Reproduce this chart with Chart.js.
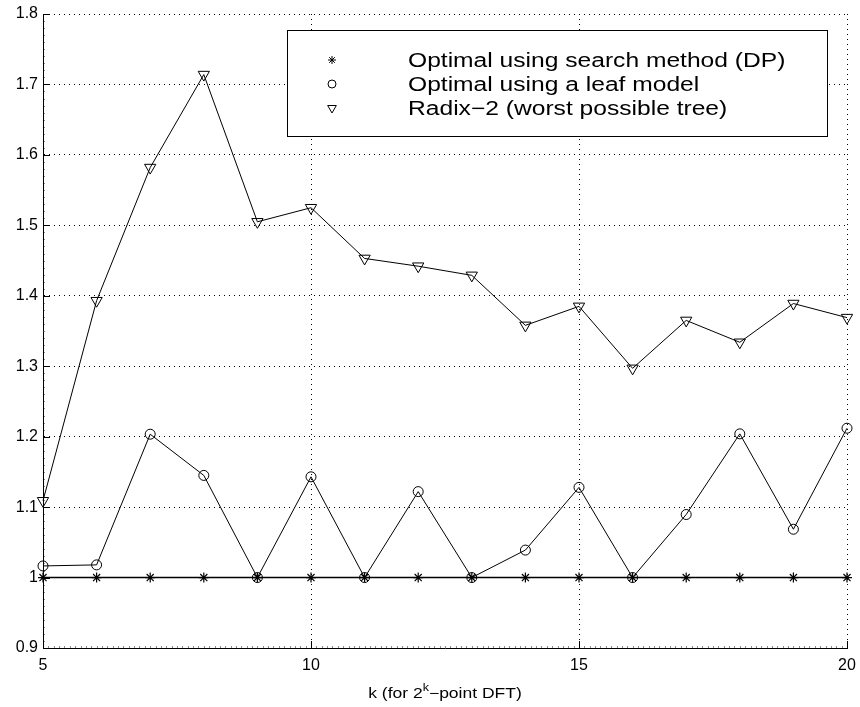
<!DOCTYPE html>
<html>
<head>
<meta charset="utf-8">
<script src="https://cdn.jsdelivr.net/npm/chart.js@4/dist/chart.umd.min.js"></script>
<style>
  html, body { margin: 0; padding: 0; background: #ffffff; }
  #c { display: block; }
</style>
</head>
<body>
<canvas id="c" width="860" height="707"></canvas>
<script>
// ---- data ----
const kValues = [5, 6, 7, 8, 9, 10, 11, 12, 13, 14, 15, 16, 17, 18, 19, 20];
const dpValues = [1, 1, 1, 1, 1, 1, 1, 1, 1, 1, 1, 1, 1, 1, 1, 1];
const leafValues = [1.0165, 1.018, 1.2035, 1.145, 1.0, 1.143, 1.0, 1.122, 1.0, 1.039, 1.128, 1.0, 1.0895, 1.204, 1.0686, 1.212];
const radixValues = [1.109, 1.393, 1.582, 1.714, 1.505, 1.525, 1.453, 1.442, 1.429, 1.358, 1.385, 1.297, 1.365, 1.334, 1.389, 1.369];
const seriesLabels = ['Optimal using search method (DP)', 'Optimal using a leaf model', 'Radix\u22122 (worst possible tree)'];
const xTicks = [5, 10, 15, 20];
const yTicks = [0.9, 1.0, 1.1, 1.2, 1.3, 1.4, 1.5, 1.6, 1.7, 1.8];
const xTitleMain = 'k (for 2';
const xTitleSup = 'k';
const xTitleEnd = '\u2212point DFT)';

const FONT = '"Liberation Sans", Arial, Helvetica, sans-serif';

function pts(vals) { return kValues.map((k, i) => ({ x: k, y: vals[i] })); }

const styles = [
  { pointStyle: 'star', radius: 5, rotation: 0, width: 1.2 },
  { pointStyle: 'circle', radius: 5, rotation: 0, width: 1 },
  { pointStyle: 'triangle', radius: 6.5, rotation: 180, width: 1 }
];

const seriesData = [dpValues, leafValues, radixValues];

const datasets = seriesData.map((vals, i) => ({
  label: seriesLabels[i],
  data: pts(vals),
  borderColor: '#000',
  backgroundColor: 'rgba(0,0,0,0)',
  borderWidth: i === 0 ? 1.4 : 1,
  pointStyle: styles[i].pointStyle,
  pointRadius: styles[i].radius,
  pointRotation: styles[i].rotation,
  pointBorderColor: '#000',
  pointBackgroundColor: 'rgba(0,0,0,0)',
  pointBorderWidth: styles[i].width,
  tension: 0,
  clip: false
}));

function stretchedText(ctx, text, x, y, sx) {
  ctx.save();
  ctx.translate(x, y);
  ctx.scale(sx, 1);
  ctx.fillText(text, 0, 0);
  ctx.restore();
}

const decorPlugin = {
  id: 'decor',
  afterDraw(chart) {
    const ctx = chart.ctx;
    const xs = chart.scales.x, ys = chart.scales.y;
    const area = chart.chartArea;
    ctx.save();
    ctx.strokeStyle = '#000';
    ctx.lineWidth = 1;
    // major inward ticks
    ctx.beginPath();
    xTicks.forEach(v => {
      const px = Math.round(xs.getPixelForValue(v)) + 0.5;
      ctx.moveTo(px, area.bottom);
      ctx.lineTo(px, area.bottom - 7);
    });
    yTicks.forEach(v => {
      const py = Math.round(ys.getPixelForValue(v)) + 0.5;
      ctx.moveTo(area.left, py);
      ctx.lineTo(area.left + 7, py);
    });
    ctx.stroke();
    // minor ticks
    ctx.beginPath();
    for (let v = 5; v <= 20.0001; v += 0.1) {
      const px = Math.round(xs.getPixelForValue(v)) + 0.5;
      ctx.moveTo(px, area.bottom);
      ctx.lineTo(px, area.bottom - 2);
    }
    for (let v = 0.9; v <= 1.8001; v += 0.01) {
      const py = Math.round(ys.getPixelForValue(v)) + 0.5;
      ctx.moveTo(area.left, py);
      ctx.lineTo(area.left + 2, py);
    }
    ctx.strokeStyle = 'rgba(0,0,0,0.45)';
    ctx.stroke();

    // legend box
    const bx = 287, by = 30, bw = 540, bh = 106;
    ctx.fillStyle = '#fff';
    ctx.fillRect(bx, by, bw, bh);
    ctx.strokeStyle = '#000';
    ctx.lineWidth = 1;
    ctx.strokeRect(bx + 0.5, by + 0.5, bw, bh);
    const rowY = [60, 84, 108];
    seriesLabels.forEach((lab, i) => {
      ctx.fillStyle = 'rgba(0,0,0,0)';
      ctx.strokeStyle = '#000';
      Chart.helpers.drawPoint(ctx, {
        pointStyle: styles[i].pointStyle,
        radius: i === 2 ? 5 : 4,
        rotation: styles[i].rotation,
        borderWidth: 1
      }, 332, rowY[i]);
      ctx.fillStyle = '#000';
      ctx.font = '20px ' + FONT;
      ctx.textBaseline = 'middle';
      ctx.textAlign = 'left';
      stretchedText(ctx, lab, 408, rowY[i] + 1, 1.23);
    });

    // x-axis title with superscript
    ctx.fillStyle = '#000';
    const sx = 1.25;
    ctx.font = '14px ' + FONT;
    const w1 = ctx.measureText(xTitleMain).width * sx;
    const w3 = ctx.measureText(xTitleEnd).width * sx;
    ctx.font = '10px ' + FONT;
    const w2 = ctx.measureText(xTitleSup).width * sx;
    const total = w1 + w2 + w3;
    const cx = (area.left + area.right) / 2;
    const x0 = cx - total / 2;
    const base = 698;
    ctx.textBaseline = 'alphabetic';
    ctx.textAlign = 'left';
    ctx.font = '14px ' + FONT;
    stretchedText(ctx, xTitleMain, x0, base, sx);
    ctx.font = '10px ' + FONT;
    stretchedText(ctx, xTitleSup, x0 + w1, base - 7, sx);
    ctx.font = '14px ' + FONT;
    stretchedText(ctx, xTitleEnd, x0 + w1 + w2, base, sx);
    ctx.restore();
  }
};

new Chart(document.getElementById('c'), {
  type: 'line',
  data: { datasets },
  options: {
    responsive: false,
    animation: false,
    devicePixelRatio: 1,
    layout: { padding: { top: 14, right: 13, left: 0, bottom: 0 } },
    plugins: { legend: { display: false }, tooltip: { enabled: false } },
    scales: {
      x: {
        type: 'linear',
        min: 5, max: 20,
        afterBuildTicks: s => { s.ticks = xTicks.map(v => ({ value: v })); },
        afterFit: s => { s.height = 59; s.paddingRight = 0; s.paddingLeft = 0; },
        ticks: { color: '#000', font: { family: FONT, size: 16 }, padding: 8, maxRotation: 0,
                 callback: v => String(v) },
        grid: { color: '#000', lineWidth: 1, drawTicks: false },
        border: { display: true, color: '#000', width: 1, dash: [1, 4] }
      },
      y: {
        type: 'linear',
        min: 0.9, max: 1.8,
        afterBuildTicks: s => { s.ticks = yTicks.map(v => ({ value: v })); },
        afterFit: s => { s.width = 43; s.paddingTop = 0; s.paddingBottom = 0; },
        ticks: { color: '#000', font: { family: FONT, size: 16 }, padding: 5,
                 callback: v => String(+(+v).toFixed(1)) },
        grid: { color: '#000', lineWidth: 1, drawTicks: false },
        border: { display: true, color: '#000', width: 1, dash: [1, 4] }
      }
    }
  },
  plugins: [decorPlugin]
});
</script>
</body>
</html>
